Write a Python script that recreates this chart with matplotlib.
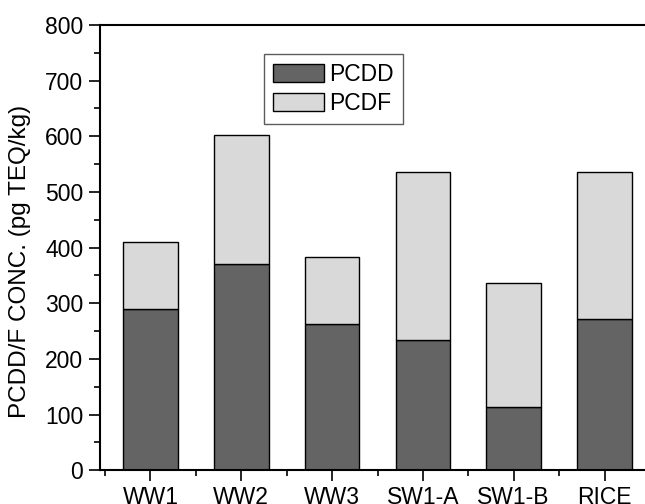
import matplotlib
matplotlib.use("Agg")
import matplotlib.pyplot as plt
import numpy as np
from matplotlib.ticker import MultipleLocator, FixedLocator

categories = ["WW1", "WW2", "WW3", "SW1-A", "SW1-B", "RICE"]
pcdd = [290, 371, 263, 234, 113, 272]
pcdf = [120, 231, 121, 302, 224, 264]

plt.rcParams['font.family'] = ['Liberation Sans', 'DejaVu Sans']

fig = plt.figure(figsize=(6.45, 5.04), dpi=100)
ax = fig.add_axes([100/645, 33.7/504, 555/645, 445.3/504])

x = np.arange(len(categories))
ax.bar(x, pcdd, width=0.6, color='#646464', edgecolor='black', linewidth=1.0, label='PCDD')
ax.bar(x, pcdf, width=0.6, bottom=pcdd, color='#d9d9d9', edgecolor='black', linewidth=1.0, label='PCDF')

ax.set_xlim(-0.556, 5.556)
ax.set_ylim(0, 800)
ax.set_xticks(x)
ax.set_xticklabels(categories)
ax.xaxis.set_minor_locator(FixedLocator(np.arange(-0.5, 6.0, 1.0)))
ax.yaxis.set_major_locator(MultipleLocator(100))
ax.yaxis.set_minor_locator(MultipleLocator(50))
ax.tick_params(which='major', direction='out', length=8, width=1.2, labelsize=16.5, pad=4)
ax.tick_params(axis='x', which='major', pad=3)
ax.tick_params(which='minor', direction='out', length=4, width=1.2)
for s in ax.spines.values():
    s.set_linewidth(1.5)
ax.set_ylabel('PCDD/F CONC. (pg TEQ/kg)', fontsize=17.5)
ax.yaxis.set_label_coords((31-100)/555, (470.3-261)/445.3)

leg = ax.legend(loc='upper left', bbox_to_anchor=((264-100)/555, (470.3-54)/445.3),
                fontsize=16.5, frameon=True, fancybox=False, handlelength=2.2,
                handleheight=0.85, borderpad=0.4, labelspacing=0.25,
                handletextpad=0.25, borderaxespad=0)
leg.get_frame().set_edgecolor('#333333')
leg.get_frame().set_linewidth(1.0)

fig.savefig('out.png', dpi=100)
